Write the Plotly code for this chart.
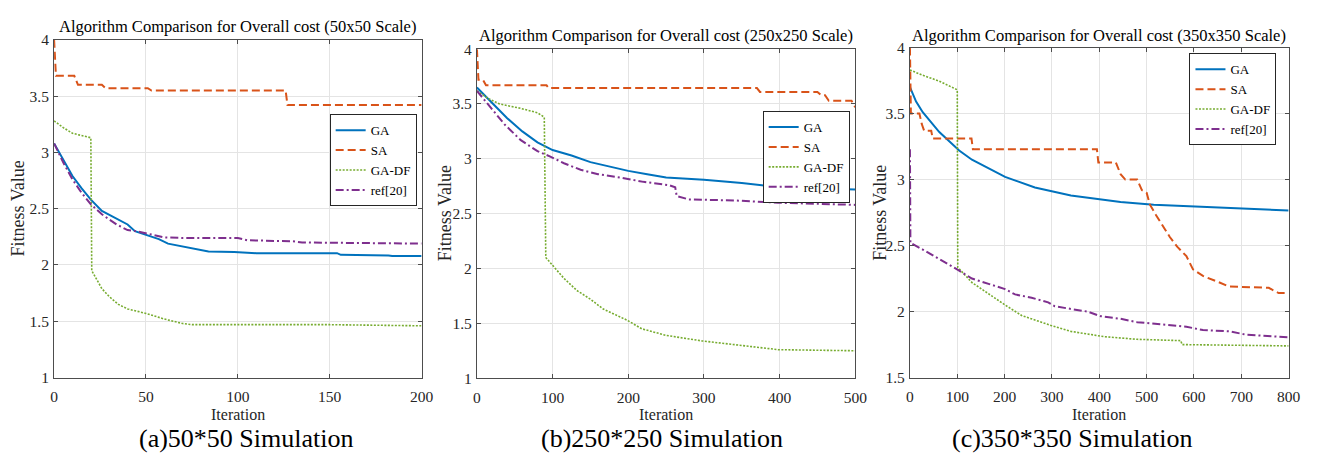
import plotly.graph_objects as go

# ---------------- data ----------------
series_names = ["GA", "SA", "GA-DF", "ref[20]"]

# Panel (a) 50x50
a_ga_x = [0, 5, 10, 15, 20, 26, 33, 40, 44, 50, 57, 62, 71, 80, 84, 98, 110, 154, 156, 182, 184, 200]
a_ga_y = [3.08, 2.93, 2.79, 2.68, 2.58, 2.48, 2.42, 2.36, 2.30, 2.27, 2.23, 2.19, 2.16, 2.13, 2.12, 2.115, 2.105, 2.105, 2.09, 2.085, 2.08, 2.08]
a_sa_x = [0, 1, 11, 13, 26, 28, 51, 53, 126, 127, 200]
a_sa_y = [4.0, 3.68, 3.68, 3.60, 3.60, 3.57, 3.57, 3.55, 3.55, 3.42, 3.42]
a_df_x = [0, 5, 10, 15, 20, 20.5, 23, 26, 30, 35, 40, 50, 60, 70, 75, 150, 200]
a_df_y = [3.28, 3.22, 3.17, 3.15, 3.13, 1.95, 1.88, 1.79, 1.72, 1.65, 1.61, 1.57, 1.52, 1.48, 1.47, 1.47, 1.46]
a_ref_x = [0, 5, 10, 15, 20, 26, 34, 40, 45, 50, 55, 60, 70, 100, 105, 130, 135, 200]
a_ref_y = [3.08, 2.91, 2.76, 2.64, 2.54, 2.45, 2.36, 2.31, 2.30, 2.28, 2.26, 2.245, 2.24, 2.24, 2.22, 2.21, 2.20, 2.19]

# Panel (b) 250x250
b_ga_x = [0, 20, 40, 60, 80, 100, 125, 150, 175, 200, 225, 250, 300, 350, 400, 450, 500]
b_ga_y = [3.65, 3.51, 3.37, 3.25, 3.15, 3.08, 3.03, 2.97, 2.93, 2.89, 2.86, 2.83, 2.81, 2.78, 2.74, 2.73, 2.72]
b_sa_x = [0, 2, 8, 12, 92, 95, 370, 374, 450, 455, 460, 465, 495, 500]
b_sa_y = [4.0, 3.72, 3.72, 3.67, 3.67, 3.645, 3.645, 3.61, 3.61, 3.58, 3.58, 3.53, 3.53, 3.47]
b_df_x = [0, 15, 30, 58, 80, 89, 91, 97, 115, 132, 150, 167, 198, 218, 250, 297, 349, 358, 398, 500]
b_df_y = [3.62, 3.55, 3.50, 3.46, 3.42, 3.38, 2.10, 2.05, 1.91, 1.80, 1.72, 1.63, 1.53, 1.45, 1.39, 1.34, 1.30, 1.29, 1.26, 1.25]
b_ref_x = [0, 20, 37, 58, 80, 97, 115, 137, 160, 189, 220, 254, 262, 264, 280, 341, 398, 450, 500]
b_ref_y = [3.62, 3.45, 3.31, 3.17, 3.07, 3.02, 2.96, 2.90, 2.86, 2.83, 2.79, 2.76, 2.74, 2.66, 2.63, 2.62, 2.60, 2.59, 2.58]

# Panel (c) 350x350
c_ga_x = [0, 13, 27, 62, 104, 131, 201, 264, 340, 410, 445, 515, 584, 688, 800]
c_ga_y = [3.70, 3.59, 3.51, 3.36, 3.22, 3.15, 3.02, 2.94, 2.88, 2.85, 2.83, 2.81, 2.80, 2.78, 2.765]
c_sa_x = [0, 2, 20, 25, 30, 45, 48, 130, 133, 395, 398, 435, 445, 455, 480, 490, 500, 507, 520, 535, 549, 565, 584, 598, 619, 654, 674, 758, 779, 800]
c_sa_y = [4.0, 3.5, 3.5, 3.42, 3.37, 3.37, 3.31, 3.31, 3.23, 3.23, 3.13, 3.13, 3.04, 3.00, 3.00, 2.92, 2.90, 2.81, 2.73, 2.64, 2.565, 2.49, 2.42, 2.32, 2.27, 2.22, 2.19, 2.18, 2.14, 2.14]
c_df_x = [0, 27, 62, 100, 101, 131, 201, 236, 298, 340, 410, 480, 572, 575, 688, 800]
c_df_y = [3.83, 3.79, 3.745, 3.68, 2.335, 2.22, 2.05, 1.97, 1.895, 1.85, 1.81, 1.79, 1.78, 1.75, 1.745, 1.74]
c_ref_x = [0, 1, 27, 62, 95, 104, 131, 166, 201, 222, 257, 292, 306, 340, 375, 403, 445, 480, 515, 584, 619, 675, 710, 800]
c_ref_y = [3.23, 2.52, 2.47, 2.40, 2.33, 2.31, 2.25, 2.21, 2.17, 2.13, 2.105, 2.07, 2.04, 2.02, 2.00, 1.965, 1.945, 1.92, 1.91, 1.885, 1.86, 1.85, 1.825, 1.805]

titles = ["Algorithm Comparison for Overall cost (50x50 Scale)",
          "Algorithm Comparison for Overall cost (250x250 Scale)",
          "Algorithm Comparison for Overall cost (350x350 Scale)"]
captions = ["(a)50*50 Simulation", "(b)250*250 Simulation", "(c)350*350 Simulation"]
x_label = "Iteration"
y_label = "Fitness Value"

# ---------------- styling ----------------
W, H = 1327, 461
FONT = "'Liberation Serif', 'Times New Roman', 'DejaVu Serif', serif"
colors = ["#0072BD", "#D95319", "#77AC30", "#7E2F8E"]
dashes = ["solid", "8px,4px", "2px,1.5px", "8px,3px,2px,3px"]
widths = [2, 2, 1.6, 2]

# plot boxes in pixels: (left, right, top, bottom)
boxes = [(50.7, 422.7, 32.0, 382.7), (478.7, 861.7, 41.7, 383.3), (917.0, 1300.3, 40.0, 382.7)]
xranges = [[0, 200], [0, 500], [0, 800]]
xdticks = [50, 100, 100]
yranges = [[1, 4], [1, 4], [1.5, 4]]

panels = [
    [(a_ga_x, a_ga_y), (a_sa_x, a_sa_y), (a_df_x, a_df_y), (a_ref_x, a_ref_y)],
    [(b_ga_x, b_ga_y), (b_sa_x, b_sa_y), (b_df_x, b_df_y), (b_ref_x, b_ref_y)],
    [(c_ga_x, c_ga_y), (c_sa_x, c_sa_y), (c_df_x, c_df_y), (c_ref_x, c_ref_y)],
]

fig = go.Figure()
legend_ids = ["legend", "legend2", "legend3"]
for p, data in enumerate(panels):
    xa = "x" if p == 0 else f"x{p+1}"
    ya = "y" if p == 0 else f"y{p+1}"
    for s, (xs, ys) in enumerate(data):
        fig.add_trace(go.Scatter(
            x=xs, y=ys, mode="lines", name=series_names[s],
            line=dict(color=colors[s], width=widths[s], dash=dashes[s]),
            xaxis=xa, yaxis=ya, legend=legend_ids[p], showlegend=True,
        ))

axis_common = dict(
    showline=True, linecolor="#4d4d4d", linewidth=1, mirror="ticks",
    ticks="inside", ticklen=4, tickcolor="#4d4d4d", tickwidth=1,
    showgrid=True, gridcolor="#e4e4e4", gridwidth=1, zeroline=False,
    tickfont=dict(family=FONT, size=15.5, color="#262626"),
)

layout = dict(
    width=W, height=H, autosize=False,
    margin=dict(l=0, r=0, t=0, b=0),
    paper_bgcolor="white", plot_bgcolor="white",
    font=dict(family=FONT, color="black"),
)

legend_pos = [(417.7, 109.3), (856.0, 106.0), (1288.0, 46.0)]
annotations = []
title_y = [18, 27, 27]
caption_x = [245, 665.8, 1080.8]
ylabel_x = [14, 446, 886]
for p in range(3):
    l, r, t, b = boxes[p]
    sx = "" if p == 0 else str(p + 1)
    layout[f"xaxis{sx}"] = dict(axis_common, domain=[l / W, r / W], range=xranges[p],
                                dtick=xdticks[p], tick0=0, anchor=f"y{sx}", ticklabelstandoff=5)
    layout[f"yaxis{sx}"] = dict(axis_common, domain=[1 - b / H, 1 - t / H], range=yranges[p],
                                dtick=0.5, tick0=0, anchor=f"x{sx}", ticklabelstandoff=1)
    lx, ly = legend_pos[p]
    layout[legend_ids[p]] = dict(
        x=lx / W, y=1 - ly / H, xanchor="right", yanchor="top",
        xref="paper", yref="paper",
        bgcolor="white", bordercolor="#262626", borderwidth=1,
        font=dict(family=FONT, size=13, color="black"),
        itemwidth=30, tracegroupgap=0,
    )
    cx = (l + r) / 2
    annotations.append(dict(text=titles[p], x=cx / W, y=1 - title_y[p] / H, xref="paper", yref="paper",
                            showarrow=False, xanchor="center", yanchor="middle",
                            font=dict(family=FONT, size=16.5, color="black")))
    annotations.append(dict(text=x_label, x=cx / W, y=1 - 420.7 / H, xref="paper", yref="paper",
                            showarrow=False, xanchor="center", yanchor="middle",
                            font=dict(family=FONT, size=16, color="#262626")))
    annotations.append(dict(text=captions[p], x=caption_x[p] / W, y=1 - 446 / H, xref="paper", yref="paper",
                            showarrow=False, xanchor="center", yanchor="middle",
                            font=dict(family=FONT, size=26, color="black")))
    annotations.append(dict(text=y_label, x=ylabel_x[p] / W, y=1 - ((t + b) / 2) / H, xref="paper", yref="paper",
                            showarrow=False, xanchor="center", yanchor="middle", textangle=-90,
                            font=dict(family=FONT, size=18, color="#262626")))
layout["annotations"] = annotations
fig.update_layout(**layout)

fig.write_html("out.html")
